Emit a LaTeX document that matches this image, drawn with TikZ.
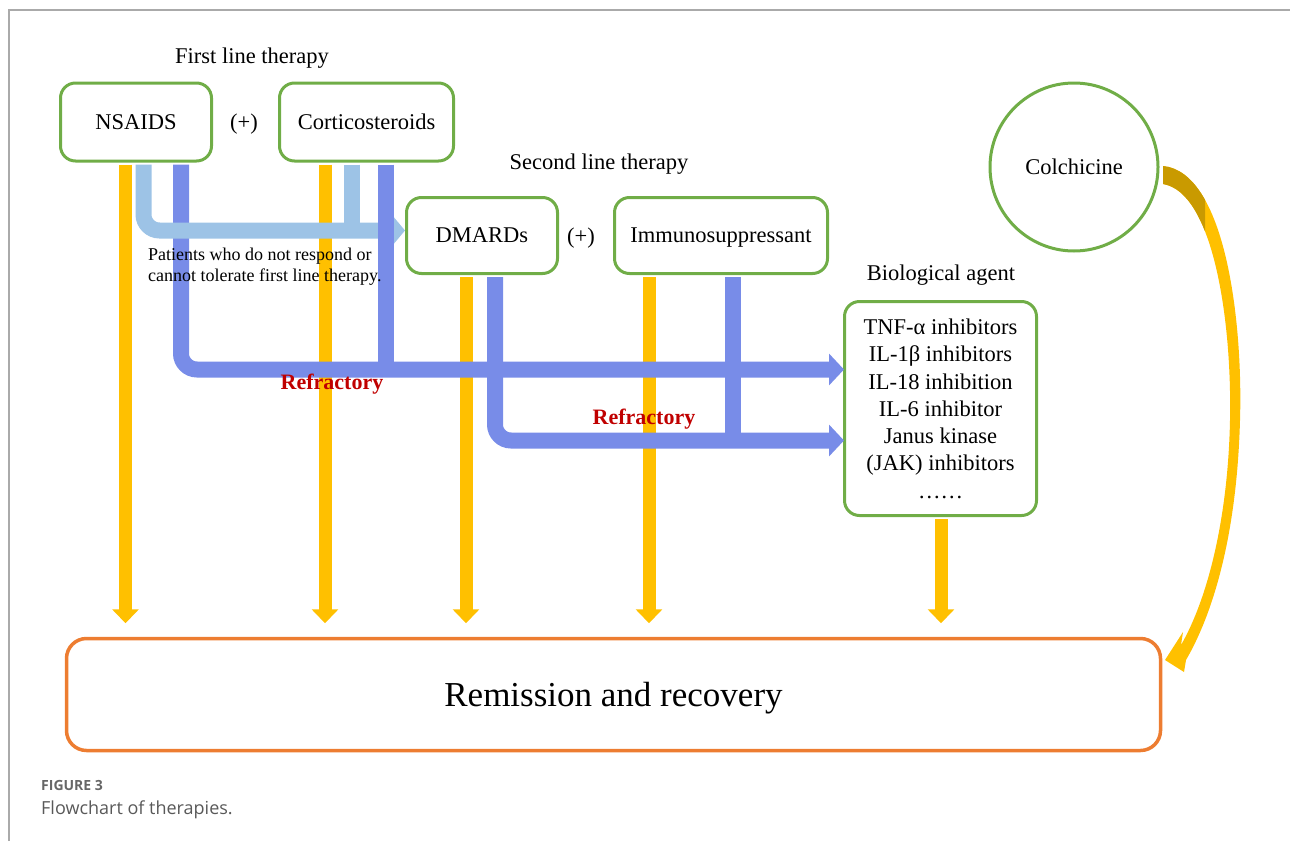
\documentclass[tikz,border=0pt]{standalone}
\usepackage{fontspec}
\setmainfont{Liberation Serif}
\newfontfamily\capfont{Open Sans}
\usetikzlibrary{arrows.meta}
\definecolor{gbox}{HTML}{70AD47}
\definecolor{ylw}{HTML}{FFC000}
\definecolor{ylwdark}{HTML}{C99A00}
\definecolor{blu}{HTML}{788CE8}
\definecolor{lblu}{HTML}{9DC3E6}
\definecolor{org}{HTML}{ED7D31}
\definecolor{redtxt}{HTML}{C00000}
\definecolor{framegray}{HTML}{AAAAAA}
\tikzset{
  box/.style={draw=gbox, line width=3pt, rounded corners=15pt, inner sep=0pt, align=center,
    text depth=0pt, font=\fontsize{22.5}{27.3}\selectfont},
  lbl/.style={inner sep=0pt, text depth=0pt, font=\fontsize{22.5}{27.3}\selectfont},
  refr/.style={inner sep=0pt, text=redtxt, font=\fontsize{22}{26}\selectfont\bfseries},
  yarrow/.style={draw=ylw, line width=13pt, shorten <=2pt, shorten >=13.5pt,
    -{Triangle[width=26pt,length=14pt]}},
  barrow/.style={draw=blu, line width=16pt, rounded corners=16pt, shorten <=2pt,
    -{Triangle[width=31pt,length=15pt]}},
  bbar/.style={draw=blu, line width=16pt, shorten <=2pt},
  lbarrow/.style={draw=lblu, line width=16pt, rounded corners=16pt, shorten <=2pt,
    -{Triangle[width=28pt,length=12pt]}},
  lbbar/.style={draw=lblu, line width=16pt, shorten <=2pt},
}
\begin{document}
\begin{tikzpicture}[x=1pt,y=-1pt]
\useasboundingbox (0,0) rectangle (1290,841);
% frame
\draw[framegray, line width=1.5pt] (9,841) -- (9,10) -- (1290,10);

% boxes
\node[box, minimum width=151pt, minimum height=78pt] (nsaids) at (136,122) {NSAIDS};
\node[box, minimum width=174pt, minimum height=78pt] (cortico) at (366.5,122) {Corticosteroids};
\node[box, minimum width=151pt, minimum height=76pt] (dmards) at (482,235.5) {DMARDs};
\node[box, minimum width=213pt, minimum height=76pt] (immuno) at (721,235.5) {Immunosuppressant};
\node[box, minimum width=192pt, minimum height=214pt] (bio) at (940.5,408.5)
  {TNF-α inhibitors\\IL-1β inhibitors\\IL-18 inhibition\\IL-6 inhibitor\\Janus kinase\\(JAK) inhibitors\\……};
\node[box, circle, minimum size=168pt] (colch) at (1074,167) {Colchicine};
\node[draw=org, line width=3.5pt, rounded corners=20pt, minimum width=1094pt, minimum height=112pt,
  inner sep=0pt, text depth=0pt, font=\fontsize{35}{40}\selectfont] (remission) at (613.5,694.5) {Remission and recovery};

% headers
\node[lbl] (first) at (252,56) {First line therapy};
\node[lbl] (second) at (599,162) {Second line therapy};
\node[lbl] (biolbl) at (941,273) {Biological agent};
\node[lbl] (plus1) at (244,122) {(+)};
\node[lbl] (plus2) at (581,236) {(+)};

% yellow arrows to remission
\draw[yarrow] (125.5,0 |- nsaids.south) -- (125.5,0 |- remission.north);
\draw[yarrow] (325,0 |- cortico.south) -- (325,0 |- remission.north);
\draw[yarrow] (466,0 |- dmards.south) -- (466,0 |- remission.north);
\draw[yarrow] (649,0 |- immuno.south) -- (649,0 |- remission.north);
\draw[yarrow] (941,0 |- bio.south) -- (941,0 |- remission.north);

% blue refractory paths
\coordinate (upperin) at (844,369.5);
\coordinate (lowerin) at (844,440.5);
\draw[barrow] (181,0 |- nsaids.south) -- (181,0 |- upperin) -- (upperin);
\draw[barrow] (495,0 |- dmards.south) -- (495,0 |- lowerin) -- (lowerin);
\draw[bbar] (733,0 |- immuno.south) -- (733,0 |- lowerin);

% light blue path to DMARDs
\draw[lbarrow] (143.5,0 |- nsaids.south) -- (143.5,230.5) -- (dmards.west |- 0,230.5);
\draw[lbbar] (352,0 |- cortico.south) -- (352,230.5);
\draw[bbar] (386,0 |- cortico.south) -- (386,0 |- upperin);

% colchicine curved arrow
\path[fill=ylw] (1163,166) .. controls (1225,172) and (1243,320) .. (1240,420)
  .. controls (1237,530) and (1215,610) .. (1186,660)
  -- (1184,672) -- (1165,660) -- (1183,632) -- (1181,645)
  .. controls (1207,600) and (1228,520) .. (1230,420)
  .. controls (1232,320) and (1213,192) .. (1163,184) -- cycle;
\begin{scope}
\clip (1150,150) rectangle (1205,230);
\path[fill=ylwdark] (1163,166) .. controls (1225,172) and (1243,320) .. (1240,420)
  -- (1230,420) .. controls (1232,320) and (1213,192) .. (1163,184) -- cycle;
\end{scope}

% texts on top
\node[inner sep=0pt, anchor=west, align=left, font=\fontsize{18}{21}\selectfont] (patients) at (148,266.5)
  {Patients who do not respond or\\cannot tolerate first line therapy.};
\node[refr] (refr1) at (332,384) {Refractory};
\node[refr] (refr2) at (644,419) {Refractory};

% caption
\node[inner sep=0pt, anchor=west, text=black!60, font=\capfont\fontsize{14}{16}\selectfont\bfseries] (figlbl) at (41,785) {FIGURE 3};
\node[inner sep=0pt, anchor=west, text=black!65, font=\capfont\fontsize{18}{21}\selectfont] (figcap) at (41,810) {Flowchart of therapies.};
\end{tikzpicture}
\end{document}
